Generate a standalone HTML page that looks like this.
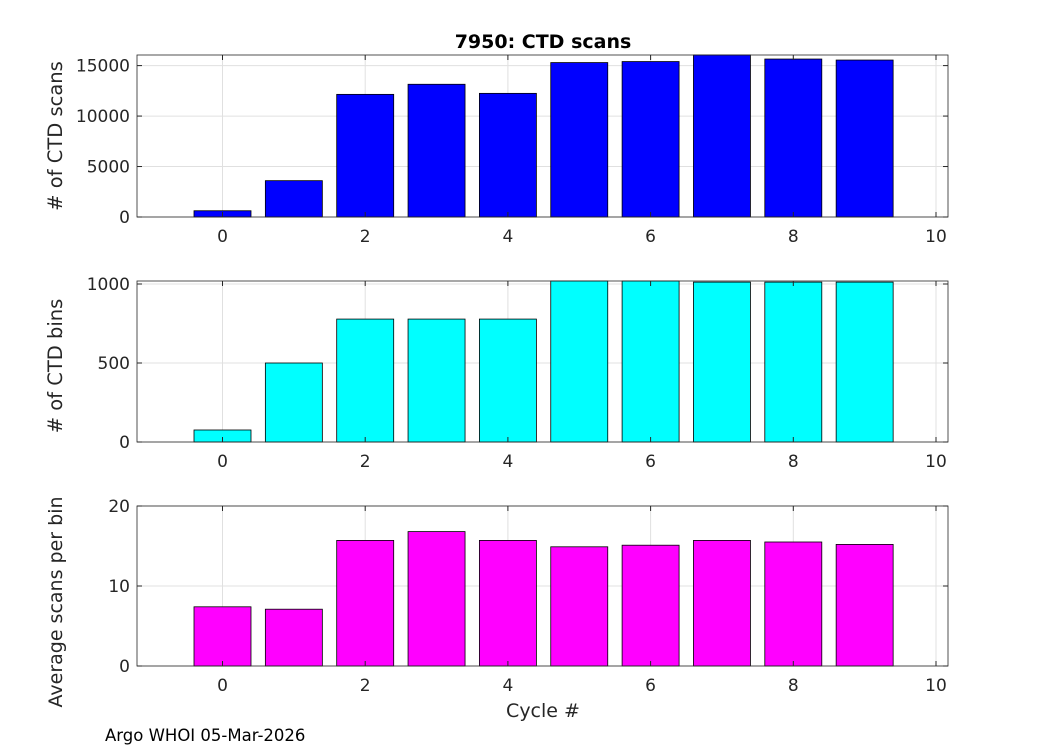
<!DOCTYPE html>
<html><head><meta charset="utf-8"><style>
body{margin:0;background:#fff;font-family:"Liberation Sans","DejaVu Sans",sans-serif}
svg text{font-family:"DejaVu Sans","Liberation Sans",sans-serif;fill:#262626}
</style></head><body>
<svg id="c" width="1050" height="750" xmlns="http://www.w3.org/2000/svg">
<rect width="1050" height="750" fill="#fff"/>
</svg>
<script>
const cycles=[0,1,2,3,4,5,6,7,8,9];
const scans=[620,3600,12150,13150,12250,15300,15400,16050,15650,15550];
const bins=[76,500,778,778,778,1019,1019,1012,1012,1012];
const avg=[7.4,7.1,15.7,16.8,15.7,14.9,15.1,15.7,15.5,15.2];
const xTicks=[0,2,4,6,8,10];
const yTicks1=[0,5000,10000,15000];
const yTicks2=[0,500,1000];
const yTicks3=[0,10,20];
const svg=document.getElementById('c');
const NS='http://www.w3.org/2000/svg';
function el(t,a,p){const e=document.createElementNS(NS,t);for(const k in a)e.setAttribute(k,a[k]);(p||svg).appendChild(e);return e;}
const L=137,R=948;
const xs=v=>222.5+(v)*71.35;
function panel(name,top,bot,ymax,ticks,vals,color,ylabel,ly,fs){
  const g=el('g',{});
  
  
  const ys=v=>bot-(v/ymax)*(bot-top);
  el('rect',{x:L,y:top,width:R-L,height:bot-top,fill:'#fff'},g);
  xTicks.forEach(t=>{el('line',{x1:xs(t),x2:xs(t),y1:top,y2:bot,stroke:'#e0e0e0'},g);});
  ticks.forEach(t=>{el('line',{x1:L,x2:R,y1:ys(t),y2:ys(t),stroke:'#e0e0e0'},g);});
  cycles.forEach((c,i)=>{
    const b=el('rect',{x:xs(c)-28.5,y:ys(vals[i]),width:57,height:bot-ys(vals[i]),fill:color,stroke:'#000','stroke-width':0.8},g);
    
    
  });
  el('rect',{x:L,y:top,width:R-L,height:bot-top,fill:'none',stroke:'#262626','stroke-width':0.8},g);
  xTicks.forEach(t=>{
    el('line',{x1:xs(t),x2:xs(t),y1:bot,y2:bot-5,stroke:'#262626'},g);
    el('line',{x1:xs(t),x2:xs(t),y1:top,y2:top+5,stroke:'#262626'},g);
    const tx=el('text',{x:xs(t),y:bot+25,'text-anchor':'middle','font-size':17},g);tx.textContent=t;
  });
  ticks.forEach(t=>{
    el('line',{x1:L,x2:L+5,y1:ys(t),y2:ys(t),stroke:'#262626'},g);
    el('line',{x1:R,x2:R-5,y1:ys(t),y2:ys(t),stroke:'#262626'},g);
    const tx=el('text',{x:L-7,y:ys(t)+6,'text-anchor':'end','font-size':17},g);tx.textContent=t;
  });
  const yl=el('text',{x:0,y:0,'text-anchor':'middle','font-size':fs,transform:`translate(62,${ly}) rotate(-90)`},g);
  yl.textContent=ylabel;
  
  
}
panel('scans',55,217,16050,yTicks1,scans,'#0000ff','# of CTD scans',136,19.5);
panel('bins',281,442,1019,yTicks2,bins,'#00ffff','# of CTD bins',366,19.5);
panel('average',506,666,20,yTicks3,avg,'#ff00ff','Average scans per bin',602,19);
const t=el('text',{x:543,y:48,'text-anchor':'middle','font-size':19,'font-weight':'bold',style:'fill:#000'});t.textContent='7950: CTD scans';

const xl=el('text',{x:543,y:717,'text-anchor':'middle','font-size':19});xl.textContent='Cycle #';

const f=el('text',{x:105,y:741,'font-size':16.5,style:'fill:#000'});f.textContent='Argo WHOI 05-Mar-2026';

</script>
</body></html>
